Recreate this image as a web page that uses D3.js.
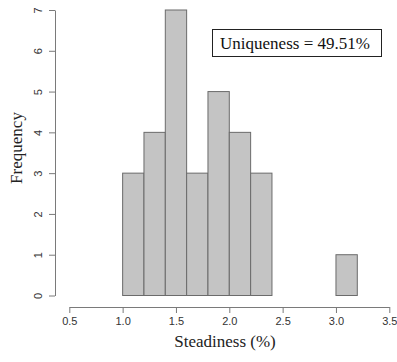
<!DOCTYPE html>
<html>
<head>
<meta charset="UTF-8">
<title>Steadiness histogram</title>
<style>
  body { margin: 0; background: #fff; }
  .axis path, .axis line { stroke: #7a7a7a; }
  .axis text { font-family: "Liberation Sans", Arial, sans-serif; font-size: 11px; fill: #333; }
</style>
</head>
<body>
<div class="chart"></div>
<script src="https://d3js.org/d3.v7.min.js"></script>
<script>
// histogram bins (lower edge, upper edge, count)
var binStart = [1.0, 1.2, 1.4, 1.6, 1.8, 2.0, 2.2, 3.0];
var binEnd   = [1.2, 1.4, 1.6, 1.8, 2.0, 2.2, 2.4, 3.2];
var counts   = [3, 4, 7, 3, 5, 4, 3, 1];
var xTicks = [0.5, 1.0, 1.5, 2.0, 2.5, 3.0, 3.5];
var yTicks = [0, 1, 2, 3, 4, 5, 6, 7];
var note = "Uniqueness = 49.51%";

var w = 397, h = 362;

var svg = d3.select("div.chart").append("svg")
  .attr("width", w)
  .attr("height", h);

var x = d3.scaleLinear().domain([0.5, 3.5]).range([69.3, 389.3]);
var y = d3.scaleLinear().domain([0, 7]).range([295.5, 10]);

var bins = counts.map(function(c, i) { return { x0: binStart[i], x1: binEnd[i], n: c }; });

/* bars */
svg.selectAll("rect.bar")
  .data(bins)
  .enter()
  .append("rect")
  .attr("class", "bar")
  .attr("x", function(d) { return x(d.x0); })
  .attr("y", function(d) { return y(d.n); })
  .attr("width", function(d) { return x(d.x1) - x(d.x0); })
  .attr("height", function(d) { return y(0) - y(d.n); })
  .attr("fill", "#c4c4c4")
  .attr("stroke", "#6b6b6b")
  .attr("stroke-width", 1);

/* x axis */
var xAxis = d3.axisBottom(x)
  .tickValues(xTicks)
  .tickFormat(d3.format(".1f"))
  .tickSize(6)
  .tickSizeOuter(0)
  .tickPadding(4);

svg.append("g")
  .attr("class", "axis")
  .attr("transform", "translate(0,307)")
  .call(xAxis);

/* y axis, labels rotated like R */
var yAxis = d3.axisLeft(y)
  .tickValues(yTicks)
  .tickFormat(d3.format("d"))
  .tickSize(6)
  .tickSizeOuter(0)
  .tickPadding(0);

var gy = svg.append("g")
  .attr("class", "axis")
  .attr("transform", "translate(55,0)")
  .call(yAxis);

gy.selectAll("text")
  .attr("x", null)
  .attr("text-anchor", "middle")
  .attr("transform", "translate(-17,0) rotate(-90)")
  .attr("dy", "0.35em");

/* axis titles */
svg.append("text")
  .attr("x", 225)
  .attr("y", 347)
  .attr("text-anchor", "middle")
  .attr("font-family", "Liberation Serif, Times New Roman, serif")
  .attr("font-size", "17px")
  .attr("fill", "#222")
  .text("Steadiness (%)");

svg.append("text")
  .attr("transform", "translate(22,148) rotate(-90)")
  .attr("text-anchor", "middle")
  .attr("font-family", "Liberation Serif, Times New Roman, serif")
  .attr("font-size", "17px")
  .attr("fill", "#222")
  .text("Frequency");

/* annotation box */
svg.append("rect")
  .attr("x", 212.5)
  .attr("y", 29.5)
  .attr("width", 169)
  .attr("height", 27)
  .attr("fill", "#fff")
  .attr("stroke", "#222")
  .attr("stroke-width", 1);

svg.append("text")
  .attr("x", 295)
  .attr("y", 49)
  .attr("text-anchor", "middle")
  .attr("font-family", "Liberation Serif, Times New Roman, serif")
  .attr("font-size", "17px")
  .attr("fill", "#111")
  .text(note);
</script>
</body>
</html>
